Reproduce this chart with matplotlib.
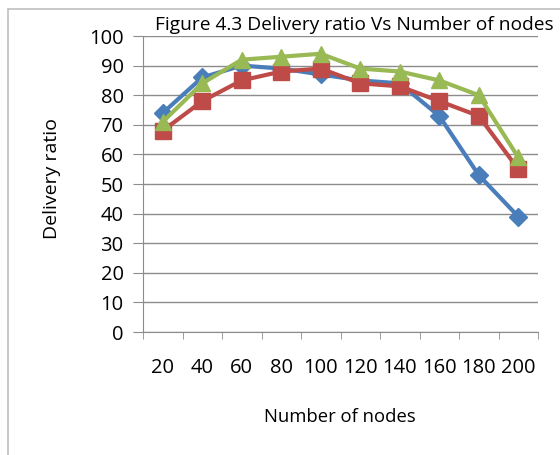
import matplotlib
matplotlib.use("Agg")
import matplotlib.pyplot as plt
import numpy as np
from matplotlib.patches import Rectangle

nodes = ["20", "40", "60", "80", "100", "120", "140", "160", "180", "200"]
series_blue = [74, 86, 90, 89, 87, 85, 84, 73, 53, 39]
series_red = [68, 78, 85, 88, 89, 84, 83, 78, 73, 55]
series_green = [71, 84, 92, 93, 94, 89, 88, 85, 80, 59]
y_ticks = [0, 10, 20, 30, 40, 50, 60, 70, 80, 90, 100]

FONT = "Open Sans"
W, H = 560, 455
fig = plt.figure(figsize=(W / 100, H / 100), dpi=100)
fig.patches.append(Rectangle((8 / W, -0.1), 1.2, 1 - 9 / H + 0.1, transform=fig.transFigure,
                             fill=False, edgecolor="#bfbfbf", linewidth=1.2))

ax = fig.add_axes([143 / W, 1 - 332 / H, (538 - 143) / W, (332 - 36) / H])
x = np.arange(len(nodes))
ax.plot(x, series_blue, color="#4A7EBB", lw=3, marker="D", ms=9, zorder=3)
ax.plot(x, series_red, color="#BE4B48", lw=3, marker="s", ms=11, zorder=4)
ax.plot(x, series_green, color="#98B954", lw=3, marker="^", ms=12, zorder=5)

ax.set_xlim(-0.5, len(nodes) - 0.5)
ax.set_ylim(0, 100)
ax.set_yticks(y_ticks)
ax.set_yticklabels([str(v) for v in y_ticks], fontfamily=FONT, fontsize=14.5)
ax.yaxis.grid(True, color="#8c8c8c", linewidth=1)
ax.set_axisbelow(True)
ax.tick_params(axis="y", length=7, color="#8c8c8c", pad=7)
ax.set_xticks(x)
ax.set_xticklabels(nodes, fontfamily=FONT, fontsize=14.5)
ax.tick_params(axis="x", which="major", length=0, pad=19)
ax.set_xticks(np.arange(-0.5, len(nodes)), minor=True)
ax.tick_params(axis="x", which="minor", length=5, color="#8c8c8c")
for s in ["top", "right"]:
    ax.spines[s].set_visible(False)
for s in ["left", "bottom"]:
    ax.spines[s].set_color("#8c8c8c")

fig.text(354 / W, 1 - 25 / H, "Figure 4.3 Delivery ratio Vs Number of nodes",
         ha="center", va="center", fontfamily=FONT, fontsize=13.8)
fig.text(340 / W, 1 - 417 / H, "Number of nodes", ha="center", va="center",
         fontfamily=FONT, fontsize=13.3)
fig.text(52 / W, 1 - 179 / H, "Delivery ratio", ha="center", va="center",
         rotation=90, fontfamily=FONT, fontsize=14)

fig.savefig("out.png", dpi=100)
